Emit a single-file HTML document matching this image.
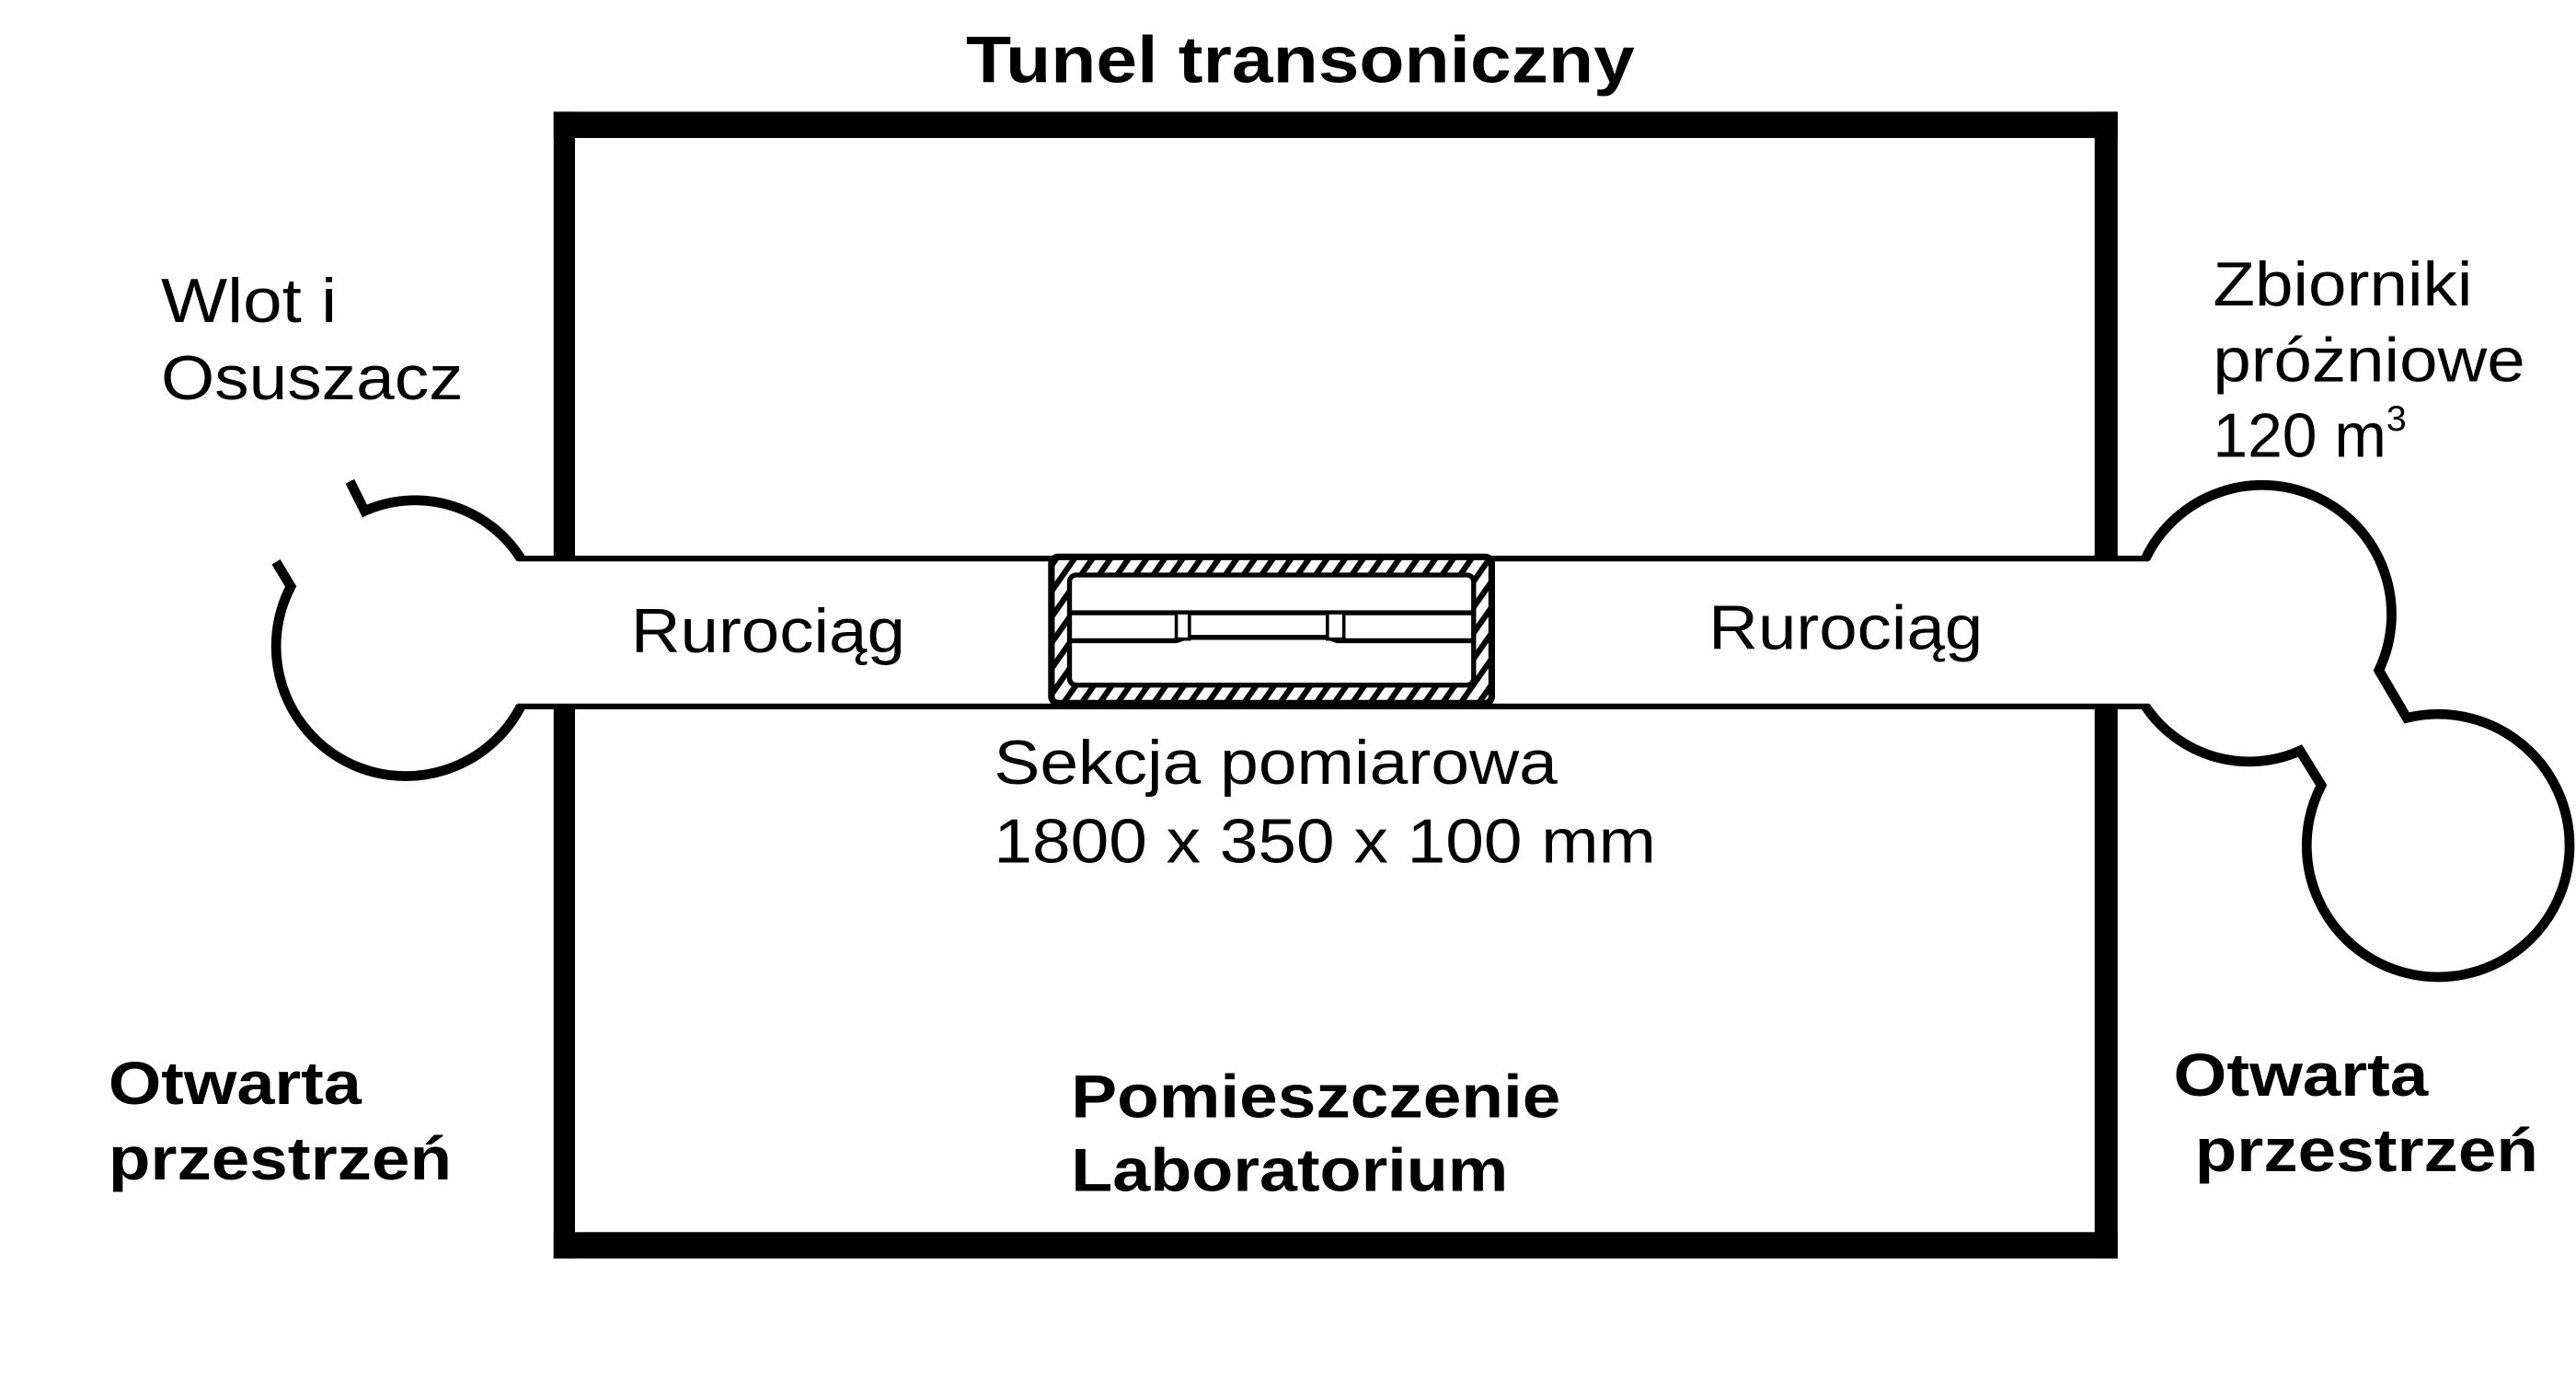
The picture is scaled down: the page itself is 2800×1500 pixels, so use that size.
<!DOCTYPE html>
<html><head><meta charset="utf-8"><style>
html,body{margin:0;padding:0;background:#fff;}
svg{display:block;}
text{font-family:"Liberation Sans",Arial,sans-serif;fill:#000;}
.b{font-weight:bold;}
</style></head><body>
<svg width="2800" height="1500" viewBox="0 0 1568 840" xmlns="http://www.w3.org/2000/svg">
<defs>
<pattern id="h" width="9" height="9" patternUnits="userSpaceOnUse" patternTransform="rotate(35)">
<rect width="9" height="9" fill="#fff"/>
<rect width="3.5" height="9" fill="#000"/>
</pattern>
</defs>
<rect width="1568" height="840" fill="#fff"/>
<text x="588" y="50" font-size="40" class="b" textLength="407" lengthAdjust="spacingAndGlyphs">Tunel transoniczny</text>
<rect x="337" y="68" width="952" height="16" fill="#000"/>
<rect x="337" y="750" width="952" height="16" fill="#000"/>
<rect x="337" y="68" width="13" height="272" fill="#000"/>
<rect x="1275" y="68" width="14" height="272" fill="#000"/>
<rect x="337" y="430" width="13" height="336" fill="#000"/>
<rect x="1275" y="430" width="14" height="336" fill="#000"/>
<rect x="350" y="342" width="925" height="86" fill="#fff"/>
<line x1="315" y1="340" x2="1308" y2="340" stroke="#000" stroke-width="3.5"/>
<line x1="315" y1="430" x2="1308" y2="430" stroke="#000" stroke-width="3.5"/>
<g fill="none" stroke="#000" stroke-width="6" stroke-linejoin="miter">
<path d="M213,293 L222,311 A76,76 0 0 1 317,340"/>
<path d="M168,342 L177,357 A76,76 0 0 0 317,430"/>
<path d="M1306,340 A76,76 0 0 1 1448,408 L1465,437 A80,80 0 1 1 1413,478 L1400,457 A76,76 0 0 1 1306,430"/>
</g>
<rect x="640" y="339" width="268" height="89" rx="4" fill="url(#h)" stroke="#000" stroke-width="4"/>
<rect x="651" y="350" width="246" height="67" rx="4" fill="#fff" stroke="#000" stroke-width="3"/>
<line x1="651" y1="373" x2="897" y2="373" stroke="#000" stroke-width="3"/>
<path d="M651,390 L716,390 L722,388 L808,388 L814,390 L897,390" fill="none" stroke="#000" stroke-width="3"/>
<rect x="716" y="373" width="8" height="16" fill="#fff" stroke="#000" stroke-width="2"/>
<rect x="808" y="373" width="10" height="16" fill="#fff" stroke="#000" stroke-width="2"/>
<text x="98" y="196" font-size="38" textLength="107" lengthAdjust="spacingAndGlyphs">Wlot i</text>
<text x="98" y="243" font-size="38" textLength="184" lengthAdjust="spacingAndGlyphs">Osuszacz</text>
<text x="1347" y="186" font-size="38" textLength="158" lengthAdjust="spacingAndGlyphs">Zbiorniki</text>
<text x="1347" y="232" font-size="38" textLength="190" lengthAdjust="spacingAndGlyphs">próżniowe</text>
<text x="1347" y="278" font-size="38">120 m<tspan font-size="22" dy="-16">3</tspan></text>
<text x="384" y="397" font-size="38" textLength="167" lengthAdjust="spacingAndGlyphs">Rurociąg</text>
<text x="1040" y="395" font-size="38" textLength="167" lengthAdjust="spacingAndGlyphs">Rurociąg</text>
<text x="605" y="477" font-size="38" textLength="343" lengthAdjust="spacingAndGlyphs">Sekcja pomiarowa</text>
<text x="605" y="525" font-size="38" textLength="403" lengthAdjust="spacingAndGlyphs">1800 x 350 x 100 mm</text>
<text x="66" y="672" font-size="37" class="b" textLength="154" lengthAdjust="spacingAndGlyphs">Otwarta</text>
<text x="66" y="718" font-size="37" class="b" textLength="209" lengthAdjust="spacingAndGlyphs">przestrzeń</text>
<text x="1323" y="667" font-size="37" class="b" textLength="155" lengthAdjust="spacingAndGlyphs">Otwarta</text>
<text x="1336" y="713" font-size="37" class="b" textLength="209" lengthAdjust="spacingAndGlyphs">przestrzeń</text>
<text x="652" y="680" font-size="37" class="b" textLength="298" lengthAdjust="spacingAndGlyphs">Pomieszczenie</text>
<text x="652" y="725" font-size="37" class="b" textLength="266" lengthAdjust="spacingAndGlyphs">Laboratorium</text>
</svg>
</body></html>
